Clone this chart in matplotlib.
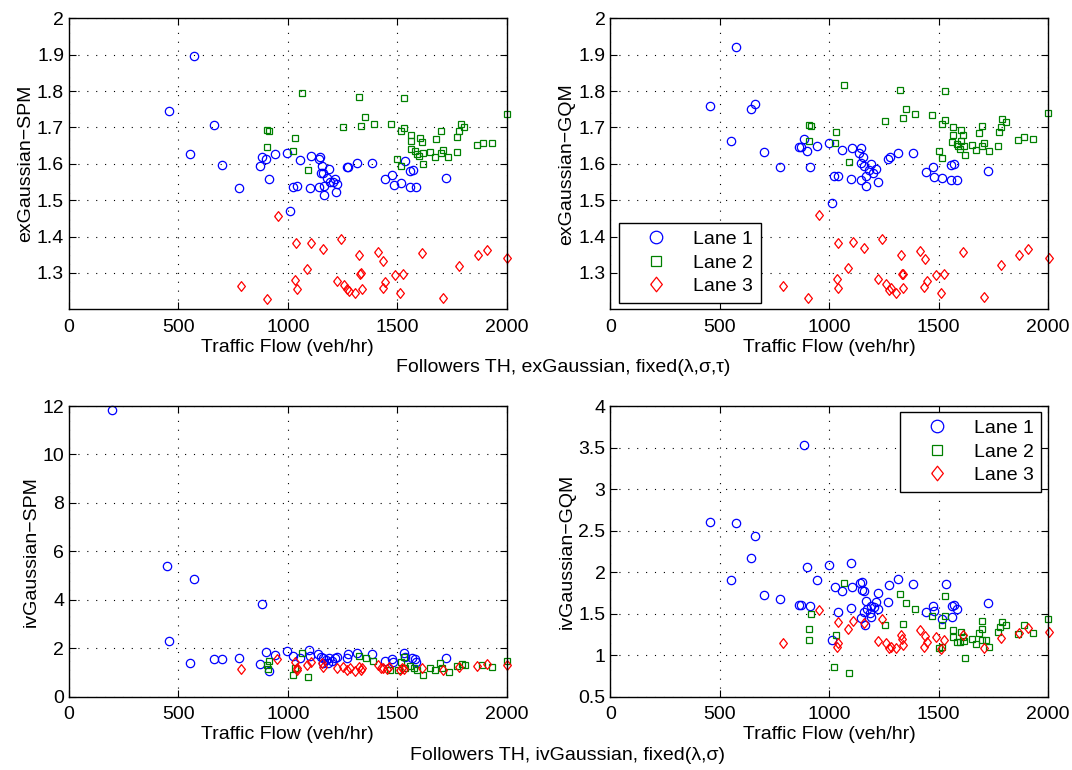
import numpy as np
import matplotlib
matplotlib.use('Agg')
import matplotlib.pyplot as plt
from matplotlib.ticker import FuncFormatter

# ---- data (x = traffic flow, y = metric) ----
# top-left: exGaussian-SPM
tl_l1_x = [456, 573, 553, 661, 701, 777, 873, 884, 900, 913, 943, 996, 1010, 1025, 1040,
           1056, 1106, 1147, 1143, 1157, 1190, 1151, 1163, 1178, 1216, 1206, 1193, 1224,
           1102, 1144, 1167, 1221, 1167, 1270, 1277, 1315, 1384, 1478, 1445, 1486, 1516,
           1536, 1559, 1574, 1559, 1585, 1723]
tl_l1_y = [1.745, 1.896, 1.628, 1.707, 1.598, 1.533, 1.594, 1.618, 1.612, 1.559, 1.626, 1.631,
           1.469, 1.536, 1.539, 1.610, 1.621, 1.618, 1.612, 1.593, 1.586, 1.576, 1.575, 1.562,
           1.559, 1.551, 1.550, 1.545, 1.533, 1.536, 1.538, 1.522, 1.514, 1.590, 1.591, 1.603,
           1.603, 1.569, 1.559, 1.543, 1.546, 1.608, 1.579, 1.583, 1.536, 1.536, 1.561]
tl_l2_x = [907, 916, 907, 1031, 1024, 1067, 1091, 1327, 1533, 1355, 1254, 1336, 1393, 1472,
           1519, 1530, 1565, 1565, 1603, 1612, 1563, 1583, 1591, 1599, 1617, 1652, 1675, 1699,
           1711, 1733, 1679, 1699, 1774, 1783, 1792, 1807, 1774, 1867, 1890, 1932, 2004, 1501,
           1518, 1620]
tl_l2_y = [1.694, 1.690, 1.646, 1.671, 1.634, 1.794, 1.582, 1.785, 1.780, 1.730, 1.700, 1.704,
           1.709, 1.709, 1.691, 1.698, 1.678, 1.662, 1.672, 1.660, 1.640, 1.634, 1.628, 1.621,
           1.629, 1.632, 1.619, 1.630, 1.637, 1.618, 1.669, 1.689, 1.674, 1.691, 1.710, 1.702,
           1.633, 1.653, 1.658, 1.658, 1.737, 1.612, 1.595, 1.600]
tl_l3_x = [956, 788, 905, 1038, 1035, 1041, 1106, 1160, 1088, 1242, 1224, 1259, 1272, 1282,
           1309, 1338, 1330, 1335, 1326, 1411, 1437, 1446, 1434, 1490, 1526, 1512, 1614, 1708,
           1784, 1868, 1909, 2001]
tl_l3_y = [1.456, 1.264, 1.229, 1.382, 1.281, 1.256, 1.382, 1.367, 1.312, 1.392, 1.279, 1.268,
           1.256, 1.250, 1.245, 1.256, 1.296, 1.299, 1.350, 1.357, 1.334, 1.275, 1.258, 1.294,
           1.296, 1.245, 1.355, 1.231, 1.320, 1.350, 1.364, 1.340]

# top-right: exGaussian-GQM
tr_l1_x = [456, 573, 643, 663, 552, 701, 776, 864, 885, 872, 900, 943, 913, 998, 1012, 1024,
           1039, 1058, 1100, 1105, 1146, 1138, 1156, 1146, 1191, 1160, 1215, 1184, 1199, 1169,
           1144, 1169, 1222, 1271, 1278, 1313, 1385, 1476, 1443, 1481, 1516, 1559, 1572, 1559,
           1583, 1725]
tr_l1_y = [1.759, 1.920, 1.750, 1.764, 1.662, 1.633, 1.590, 1.645, 1.667, 1.646, 1.635, 1.648,
           1.591, 1.656, 1.492, 1.566, 1.566, 1.637, 1.557, 1.644, 1.643, 1.630, 1.619, 1.602,
           1.600, 1.594, 1.585, 1.584, 1.576, 1.566, 1.556, 1.538, 1.550, 1.612, 1.619, 1.631,
           1.630, 1.590, 1.577, 1.564, 1.562, 1.598, 1.599, 1.555, 1.556, 1.579]
tr_l2_x = [908, 917, 908, 1032, 1026, 1067, 1091, 1255, 1326, 1353, 1338, 1393, 1472, 1531,
           1517, 1528, 1501, 1517, 1566, 1604, 1568, 1611, 1563, 1601, 1583, 1590, 1600, 1618,
           1620, 1652, 1673, 1684, 1699, 1699, 1709, 1732, 1773, 1775, 1784, 1792, 1807, 1865,
           1889, 1933, 2002]
tr_l2_y = [1.708, 1.705, 1.664, 1.687, 1.657, 1.817, 1.606, 1.719, 1.804, 1.752, 1.725, 1.736,
           1.733, 1.800, 1.710, 1.720, 1.634, 1.616, 1.701, 1.692, 1.678, 1.678, 1.661, 1.663,
           1.654, 1.648, 1.642, 1.648, 1.623, 1.653, 1.638, 1.684, 1.705, 1.648, 1.656, 1.634,
           1.648, 1.687, 1.702, 1.723, 1.714, 1.666, 1.674, 1.668, 1.741]
tr_l3_x = [788, 955, 905, 1039, 1034, 1042, 1108, 1086, 1161, 1243, 1222, 1259, 1272, 1283,
           1307, 1327, 1332, 1336, 1339, 1414, 1437, 1446, 1432, 1489, 1525, 1511, 1612, 1709,
           1786, 1868, 1909, 2004]
tr_l3_y = [1.264, 1.458, 1.231, 1.383, 1.282, 1.258, 1.384, 1.314, 1.368, 1.393, 1.282, 1.270,
           1.253, 1.259, 1.246, 1.350, 1.296, 1.298, 1.259, 1.360, 1.337, 1.277, 1.261, 1.293,
           1.298, 1.245, 1.357, 1.235, 1.322, 1.350, 1.367, 1.342]

# bottom-left: ivGaussian-SPM
bl_l1_x = [196, 448, 573, 884, 456, 553, 662, 701, 777, 873, 901, 913, 943, 997, 1026, 1056,
           1099, 1100, 1140, 1151, 1163, 1175, 1190, 1201, 1216, 1224, 1163, 1186, 1277, 1270,
           1318, 1384, 1445, 1475, 1483, 1533, 1536, 1567, 1581, 1588, 1722]
bl_l1_y = [11.85, 5.41, 4.86, 3.82, 2.29, 1.41, 1.56, 1.57, 1.60, 1.36, 1.85, 1.08, 1.71, 1.89,
           1.68, 1.61, 1.93, 1.70, 1.75, 1.65, 1.59, 1.52, 1.59, 1.48, 1.61, 1.65, 1.38, 1.38,
           1.75, 1.59, 1.79, 1.76, 1.48, 1.54, 1.45, 1.82, 1.62, 1.59, 1.54, 1.45, 1.59]
bl_l2_x = [907, 916, 909, 1026, 1033, 1067, 1091, 1327, 1356, 1391, 1516, 1533, 1506, 1537,
           1560, 1575, 1590, 1620, 1651, 1674, 1696, 1704, 1735, 1773, 1797, 1812, 1887, 1932,
           2004, 1467]
bl_l2_y = [1.31, 1.48, 1.13, 0.88, 1.20, 1.79, 0.83, 1.68, 1.59, 1.49, 1.45, 1.62, 1.10, 1.18,
           1.25, 1.20, 1.10, 0.90, 1.18, 1.10, 1.38, 1.18, 1.03, 1.28, 1.35, 1.30, 1.31, 1.24,
           1.48, 1.10]
bl_l3_x = [788, 953, 1033, 1040, 1043, 1087, 1105, 1155, 1163, 1224, 1254, 1272, 1285, 1308,
           1327, 1338, 1333, 1414, 1427, 1437, 1452, 1464, 1522, 1530, 1515, 1612, 1711, 1784,
           1867, 1909, 2004]
bl_l3_y = [1.16, 1.55, 1.45, 1.20, 1.10, 1.31, 1.45, 1.38, 1.24, 1.17, 1.24, 1.10, 1.17, 1.07,
           1.24, 1.20, 1.10, 1.31, 1.17, 1.20, 1.15, 1.24, 1.20, 1.15, 1.10, 1.20, 1.10, 1.24,
           1.27, 1.34, 1.31]

# bottom-right: ivGaussian-GQM
br_l1_x = [456, 573, 661, 643, 552, 701, 776, 864, 885, 900, 943, 998, 1100, 1027, 1057, 1105,
           1141, 1149, 1152, 1161, 1222, 1275, 1313, 1384, 872, 913, 1039, 1012, 1100, 1168,
           1191, 1206, 1214, 1222, 1175, 1161, 1187, 1146, 1191, 1164, 1270, 1443, 1476, 1481,
           1516, 1533, 1560, 1572, 1584, 1560, 1725]
br_l1_y = [2.608, 2.593, 2.432, 2.175, 1.910, 1.725, 1.673, 1.605, 3.530, 2.060, 1.910, 2.080,
           2.110, 1.825, 1.770, 1.825, 1.866, 1.885, 1.785, 1.770, 1.753, 1.840, 1.915, 1.852,
           1.605, 1.597, 1.515, 1.183, 1.565, 1.653, 1.595, 1.584, 1.645, 1.550, 1.553, 1.524,
           1.512, 1.444, 1.456, 1.364, 1.637, 1.515, 1.590, 1.530, 1.434, 1.856, 1.595, 1.600,
           1.553, 1.462, 1.633]
br_l2_x = [917, 908, 908, 1032, 1024, 1067, 1091, 1255, 1326, 1353, 1338, 1393, 1472, 1531,
           1528, 1517, 1501, 1517, 1566, 1604, 1568, 1611, 1583, 1599, 1620, 1618, 1652, 1673,
           1684, 1699, 1697, 1699, 1717, 1732, 1773, 1781, 1792, 1807, 1865, 1889, 1933, 2002]
br_l2_y = [1.493, 1.312, 1.183, 1.243, 0.861, 1.866, 0.782, 1.364, 1.737, 1.625, 1.372, 1.553,
           1.472, 1.713, 1.472, 1.360, 1.090, 1.102, 1.303, 1.283, 1.223, 1.223, 1.163, 1.160,
           0.963, 1.175, 1.200, 1.131, 1.264, 1.408, 1.312, 1.183, 1.183, 1.095, 1.283, 1.336,
           1.404, 1.360, 1.252, 1.360, 1.264, 1.436]
br_l3_x = [788, 955, 1039, 1035, 1042, 1108, 1086, 1161, 1243, 1222, 1259, 1272, 1283, 1307,
           1327, 1332, 1339, 1414, 1437, 1446, 1432, 1489, 1525, 1511, 1612, 1709, 1786, 1868,
           1909, 2004]
br_l3_y = [1.150, 1.545, 1.404, 1.102, 1.143, 1.416, 1.316, 1.392, 1.432, 1.175, 1.143, 1.083,
           1.100, 1.083, 1.243, 1.200, 1.123, 1.303, 1.231, 1.163, 1.102, 1.216, 1.183, 1.078,
           1.240, 1.083, 1.203, 1.264, 1.324, 1.283]

lane_names = ['Lane 1', 'Lane 2', 'Lane 3']

plt.rcParams['font.family'] = ['Liberation Sans', 'DejaVu Sans']
plt.rcParams['font.size'] = 14

# MATLAB-like diamond
diamond = [(-0.4, 0), (0, 0.5), (0.4, 0), (0, -0.5), (-0.4, 0)]
styles = [dict(marker='o', color='#0000ff', ms=6, mew=0.9),
          dict(marker='s', color='#008000', ms=4.6, mew=0.9),
          dict(marker=diamond, color='#ff0000', ms=7, mew=0.9)]


def draw_panel(ax, series, ylim, yticks, ylabel):
    for (x, y), st in zip(series, styles):
        ax.plot(x, y, linestyle='none', marker=st['marker'], ms=st['ms'], mew=st['mew'],
                mec=st['color'], mfc='none', clip_on=False)
    ax.set_xlim(0, 2000)
    ax.set_xticks([0, 500, 1000, 1500, 2000])
    ax.set_ylim(*ylim)
    ax.set_yticks(yticks)
    ax.yaxis.set_major_formatter(FuncFormatter(lambda v, p: '%g' % round(v, 3)))
    ax.grid(True, color='k', linestyle=(0, (1, 7)), linewidth=0.8)
    ax.tick_params(direction='in', top=True, right=True, length=5, width=0.8, labelsize=14)
    ax.tick_params(axis='x', pad=7)
    for s in ax.spines.values():
        s.set_linewidth(1.0)
    ax.set_xlabel('Traffic Flow (veh/hr)', fontsize=14, labelpad=2)
    ax.set_ylabel(ylabel, fontsize=14, labelpad=2)


def add_legend(ax, **kw):
    handles = []
    for st, name in zip(styles, lane_names):
        h, = ax.plot([], [], linestyle='none', marker=st['marker'], ms=st['ms'] * 1.5,
                     mew=st['mew'], mec=st['color'], mfc='none', label=name)
        handles.append(h)
    leg = ax.legend(handles=handles, numpoints=1, fancybox=False, framealpha=1,
                    edgecolor='k', handlelength=3.0, handletextpad=0.4, labelspacing=0.3,
                    borderpad=0.4, borderaxespad=0, fontsize=14, **kw)
    leg.get_frame().set_linewidth(1.0)
    leg.set_zorder(5)


fig = plt.figure(figsize=(10.72, 7.70), dpi=100)
W, H = 1072.0, 770.0
ax_tl = fig.add_axes([68.9 / W, 1 - 309.3 / H, 437.7 / W, 291 / H])
ax_tr = fig.add_axes([610.3 / W, 1 - 309.3 / H, 437.7 / W, 291 / H])
ax_bl = fig.add_axes([68.9 / W, 1 - 696.7 / H, 437.7 / W, 290.7 / H])
ax_br = fig.add_axes([610.3 / W, 1 - 696.7 / H, 437.7 / W, 290.7 / H])

top_ticks = [1.3, 1.4, 1.5, 1.6, 1.7, 1.8, 1.9, 2.0]
draw_panel(ax_tl, [(tl_l1_x, tl_l1_y), (tl_l2_x, tl_l2_y), (tl_l3_x, tl_l3_y)],
           (1.2, 2.0), top_ticks, 'exGaussian\u2212SPM')
draw_panel(ax_tr, [(tr_l1_x, tr_l1_y), (tr_l2_x, tr_l2_y), (tr_l3_x, tr_l3_y)],
           (1.2, 2.0), top_ticks, 'exGaussian\u2212GQM')
draw_panel(ax_bl, [(bl_l1_x, bl_l1_y), (bl_l2_x, bl_l2_y), (bl_l3_x, bl_l3_y)],
           (0, 12), [0, 2, 4, 6, 8, 10, 12], 'ivGaussian\u2212SPM')
draw_panel(ax_br, [(br_l1_x, br_l1_y), (br_l2_x, br_l2_y), (br_l3_x, br_l3_y)],
           (0.5, 4), [0.5, 1, 1.5, 2, 2.5, 3, 3.5, 4], 'ivGaussian\u2212GQM')

add_legend(ax_tr, loc='lower left', bbox_to_anchor=(0.02, 0.022))
add_legend(ax_br, loc='upper right', bbox_to_anchor=(0.985, 0.98))

fig.text(563 / W, 1 - 367 / H, 'Followers TH, exGaussian, fixed(\u03bb,\u03c3,\u03c4)',
         ha='center', va='center', fontsize=14)
fig.text(567 / W, 1 - 756 / H, 'Followers TH, ivGaussian, fixed(\u03bb,\u03c3)',
         ha='center', va='center', fontsize=14)

fig.savefig('out.png', dpi=100)
